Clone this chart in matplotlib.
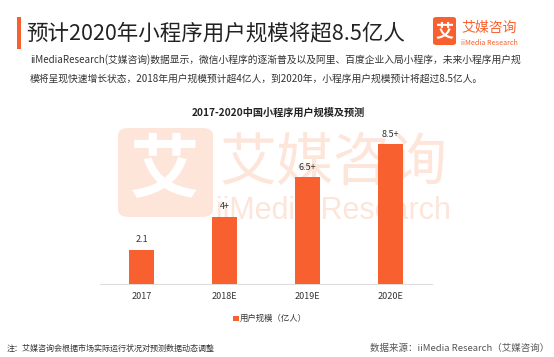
import matplotlib
matplotlib.use("Agg")
import matplotlib.pyplot as plt
from matplotlib.patches import FancyBboxPatch, Rectangle

plt.rcParams['font.family'] = ['Noto Sans CJK SC', 'DejaVu Sans']

# ---------------- DATA ----------------
years = ['2017', '2018E', '2019E', '2020E']
users = [2.1, 4.1, 6.5, 8.5]          # 亿人
value_labels = ['2.1', '4+', '6.5+', '8.5+']

ORANGE = '#f8612f'
WM = '#fde5da'

fig = plt.figure(figsize=(5.54, 3.57), dpi=100)
W, H = 554, 357

def fx(px):
    return px / W

def fy(py):
    return 1 - py / H

# ---------------- WATERMARK (behind the chart) ----------------
fig.patches.append(FancyBboxPatch((fx(118), fy(217)), fx(95), (217 - 128) / H,
                                  boxstyle='round,pad=0,rounding_size=0.02',
                                  transform=fig.transFigure, facecolor=WM,
                                  edgecolor='none', zorder=-3))
fig.text(fx(165), fy(172), '艾', color='white', fontsize=50, ha='center',
         va='center', fontweight='bold', zorder=-2)
fig.text(fx(333), fy(164), '艾媒咨询', color=WM, fontsize=41, ha='center',
         va='center', zorder=-2)
fig.text(fx(333), fy(211), 'iiMedia Research', color=WM, fontsize=22,
         ha='center', va='center', family='Liberation Sans', zorder=-2)

# ---------------- HEADER ----------------
fig.patches.append(Rectangle((fx(17), fy(49)), fx(4), 32 / H,
                             transform=fig.transFigure, facecolor=ORANGE,
                             edgecolor='none'))
fig.text(fx(26), fy(33), '预计2020年小程序用户规模将超8.5亿人', fontsize=15.5,
         ha='left', va='center', color='#222222')
fig.text(fx(30), fy(60),
         'iiMediaResearch(艾媒咨询)数据显示，微信小程序的逐渐普及以及阿里、百度企业入局小程序，未来小程序用户规',
         fontsize=7.05, ha='left', va='center', color='#333333')
fig.text(fx(30), fy(79),
         '模将呈现快速增长状态，2018年用户规模预计超4亿人，到2020年，小程序用户规模预计将超过8.5亿人。',
         fontsize=7.05, ha='left', va='center', color='#333333')

# logo
fig.patches.append(FancyBboxPatch((fx(433), fy(45)), fx(23), 28 / H,
                                  boxstyle='round,pad=0,rounding_size=0.006',
                                  transform=fig.transFigure, facecolor=ORANGE,
                                  edgecolor='none'))
fig.text(fx(444.5), fy(31), '艾', color='white', fontsize=13, ha='center',
         va='center', fontweight='bold')
fig.text(fx(461), fy(28), '艾媒咨询', color=ORANGE, fontsize=10, ha='left',
         va='center')
fig.text(fx(461), fy(43), 'iiMedia Research', color=ORANGE, fontsize=5.2,
         ha='left', va='center')

# ---------------- CHART ----------------
ax = fig.add_axes([fx(100), (357 - 284) / H, fx(332), 156 / H])
ax.set_zorder(2)
ax.patch.set_alpha(0)
x = range(len(years))
bars = ax.bar(x, users, width=0.31, color=ORANGE, zorder=3)
for b, lab in zip(bars, value_labels):
    ax.text(b.get_x() + b.get_width() / 2, b.get_height() + 0.35, lab,
            ha='center', va='bottom', fontsize=6.5, color='#333333')

ax.set_xlim(-0.5, 3.5)
ax.set_ylim(0, 9.5)
ax.set_xticks(list(x))
ax.set_xticklabels(years, fontsize=6.5, color='#333333')
ax.set_yticks([])
for s in ['top', 'right', 'left']:
    ax.spines[s].set_visible(False)
ax.spines['bottom'].set_color('#dddddd')
ax.tick_params(axis='x', length=0, pad=6)

fig.text(fx(278), fy(113), '2017-2020中国小程序用户规模及预测', fontsize=7.3,
         fontweight='bold', ha='center', va='center', color='#222222')

# legend
fig.patches.append(Rectangle((fx(233), fy(321)), fx(5.5), 5.5 / H,
                             transform=fig.transFigure, facecolor=ORANGE,
                             edgecolor='none'))
fig.text(fx(240), fy(318), '用户规模（亿人）', fontsize=6, ha='left',
         va='center', color='#333333')

# ---------------- FOOTER ----------------
fig.text(fx(7), fy(348), '注：艾媒咨询会根据市场实际运行状况对预测数据动态调整',
         fontsize=5.8, ha='left', va='center', color='#333333')
fig.text(fx(549), fy(348), '数据来源：iiMedia Research（艾媒咨询）',
         fontsize=6.8, ha='right', va='center', color='#555555')

fig.savefig('out.png', dpi=100)
